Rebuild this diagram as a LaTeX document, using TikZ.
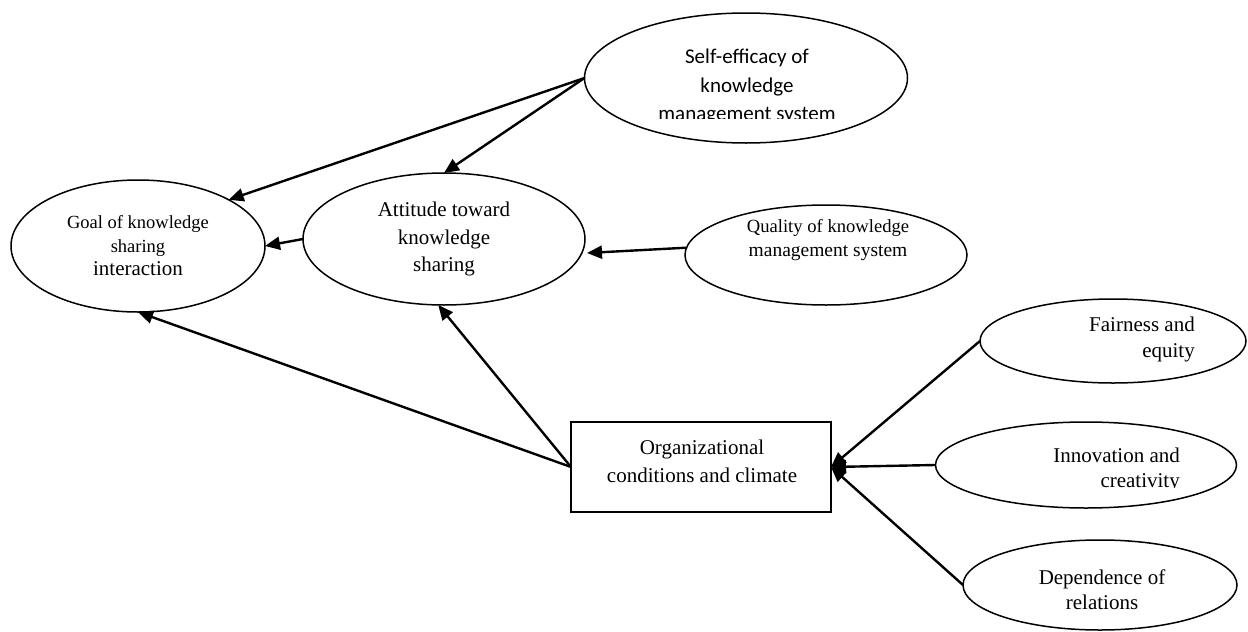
\documentclass[tikz,border=0pt]{standalone}
\usepackage{fontspec}
\setmainfont{Liberation Serif}
\newfontfamily\calib{Carlito}
\usetikzlibrary{arrows.meta,shapes.geometric}
\begin{document}
\begin{tikzpicture}[x=1pt,y=-1pt,
  ell/.style={draw, ellipse, line width=1.5pt, inner sep=0pt, outer sep=0pt},
  box/.style={draw, rectangle, line width=1.8pt, inner sep=0pt, outer sep=0pt},
  txt/.style={inner sep=0pt, align=center, font=\fontsize{21}{27}\selectfont},
  arr/.style={line width=2.4pt, -{Triangle[length=15pt,width=13pt]}}]
\useasboundingbox (0,0) rectangle (1248,632);

% shapes
\node[ell, minimum width=323pt, minimum height=130pt] (self) at (746,78) {};
\node[ell, minimum width=254pt, minimum height=132pt, align=center,
  font=\fontsize{18.5}{23.5}\selectfont] (goal) at (138,246)
  {Goal of knowledge\\sharing\\\fontsize{21}{27}\selectfont interaction};
\node[ell, minimum width=282pt, minimum height=132pt, align=center,
  font=\fontsize{21}{27.5}\selectfont] (att) at (444,239) {Attitude toward\\knowledge\\sharing};
\node[ell, minimum width=282pt, minimum height=100pt] (qual) at (826,255) {};
\node[box, minimum width=260pt, minimum height=90pt] (org) at (701,467) {};
\node[ell, minimum width=266pt, minimum height=84pt] (fair) at (1113,341) {};
\node[ell, minimum width=301pt, minimum height=86pt] (innov) at (1086,465) {};
\node[ell, minimum width=274pt, minimum height=90pt] (dep) at (1100,585) {};

% texts
\begin{scope}
  \clip (600,20) rectangle (900,118);
  \node[txt, font=\calib\fontsize{21}{28.5}\selectfont] (selfT) at (747,87)
    {Self-efficacy of\\knowledge\\management system};
\end{scope}
\node[txt, font=\fontsize{19}{24}\selectfont] (qualT) at (828,240.5)
  {\fontsize{18.6}{24}\selectfont Quality of knowledge\\\fontsize{19.5}{24}\selectfont management system};
\node[txt, font=\fontsize{21}{28}\selectfont] (orgT) at (702,461)
  {Organizational\\conditions and climate};
\node[txt, align=right, anchor=east, font=\fontsize{21}{26}\selectfont] (fairT) at (1195,339)
  {Fairness and\\equity};
\begin{scope}
  \clip (900,430) rectangle (1240,487.5);
  \node[txt, align=right, anchor=east, font=\fontsize{21}{25}\selectfont] (innovT) at (1180,469.5)
    {Innovation and\\creativity};
\end{scope}
\node[txt, font=\fontsize{21}{25}\selectfont] (depT) at (1102,590)
  {Dependence of\\relations};

% connectors
\coordinate (qtip) at (587,253);
\draw[arr] (self.west) -- (goal.27);
\draw[arr] (self.west) -- (att.north);
\draw[arr] (att.west) -- (goal.east);
\draw[arr] (qual.177) -- (qtip);
\draw[arr] (org.west) -- (goal.south);
\draw[arr] (org.west) -- (att.265);
\draw[arr] (fair.west) -- (org.east);
\draw[arr] (innov.west) -- (org.east);
\draw[arr] (dep.west) -- (org.east);
\end{tikzpicture}
\end{document}
